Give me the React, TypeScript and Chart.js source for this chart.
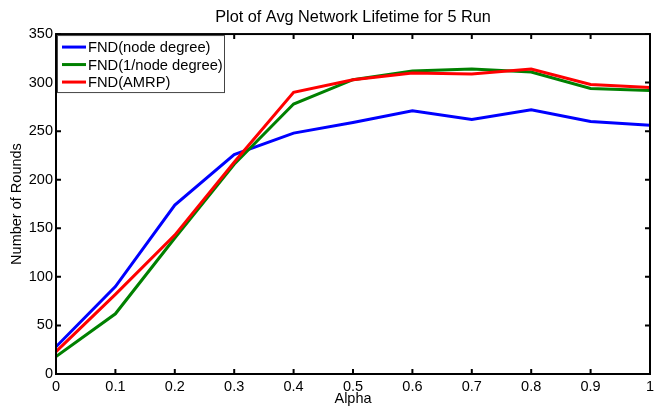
import React, { useEffect, useRef } from "react";
import { Chart, registerables } from "chart.js";

Chart.register(...registerables);

const alpha = [0, 0.1, 0.2, 0.3, 0.4, 0.5, 0.6, 0.7, 0.8, 0.9, 1];
const fndNodeDegree = [28, 90, 174, 226, 248, 259, 271, 262, 272, 260, 256];
const fndInvNodeDegree = [18, 62, 140, 216, 278, 303, 312, 314, 311, 294, 292];
const fndAmrp = [23, 82, 143, 218, 290, 303, 310, 309, 314, 298, 295];
const seriesLabels = ["FND(node degree)", "FND(1/node degree)", "FND(AMRP)"];
const seriesColors = ["#0000FF", "#008000", "#FF0000"];
const xTickLabels = ["0", "0.1", "0.2", "0.3", "0.4", "0.5", "0.6", "0.7", "0.8", "0.9", "1"];
const yTickValues = [0, 50, 100, 150, 200, 250, 300, 350];

const FONT = "'Liberation Sans', Arial, sans-serif";

const framePlugin = {
  id: "frame",
  afterDatasetsDraw(chart: any) {
    const { ctx, chartArea: a, scales } = chart;
    ctx.save();
    ctx.strokeStyle = "#000";
    ctx.lineWidth = 2;
    ctx.strokeRect(a.left, a.top, a.right - a.left, a.bottom - a.top);
    const L = 5;
    ctx.beginPath();
    alpha.forEach((v) => {
      const x = scales.x.getPixelForValue(v);
      ctx.moveTo(x, a.bottom);
      ctx.lineTo(x, a.bottom - L);
      ctx.moveTo(x, a.top);
      ctx.lineTo(x, a.top + L);
    });
    yTickValues.forEach((v) => {
      const y = scales.y.getPixelForValue(v);
      ctx.moveTo(a.left, y);
      ctx.lineTo(a.left + L, y);
      ctx.moveTo(a.right, y);
      ctx.lineTo(a.right - L, y);
    });
    ctx.stroke();

    // legend box
    const bx = a.left + 1;
    const by = a.top + 1;
    const bw = 168;
    const bh = 58;
    ctx.fillStyle = "#fff";
    ctx.fillRect(bx, by, bw, bh);
    ctx.lineWidth = 1;
    ctx.strokeStyle = "#444";
    ctx.strokeRect(bx + 0.5, by + 0.5, bw - 1, bh - 1);
    ctx.font = `14.7px ${FONT}`;
    ctx.textBaseline = "middle";
    ctx.textAlign = "left";
    chart.data.datasets.forEach((ds: any, i: number) => {
      const y = by + 12 + i * 17.5;
      ctx.strokeStyle = ds.borderColor;
      ctx.lineWidth = 3;
      ctx.beginPath();
      ctx.moveTo(bx + 5, y);
      ctx.lineTo(bx + 29, y);
      ctx.stroke();
      ctx.fillStyle = "#000";
      ctx.fillText(ds.label, bx + 31, y + 1);
    });
    ctx.restore();
  },
};

export default function App() {
  const ref = useRef<HTMLCanvasElement>(null);
  useEffect(() => {
    if (!ref.current) return;
    const seriesValues = [fndNodeDegree, fndInvNodeDegree, fndAmrp];
    const orders = [2, 1, 0];
    const chart = new Chart(ref.current, {
      type: "line",
      data: {
        datasets: seriesValues.map((vals, i) => ({
          label: seriesLabels[i],
          data: vals.map((y, j) => ({ x: alpha[j], y })),
          borderColor: seriesColors[i],
          backgroundColor: seriesColors[i],
          borderWidth: 3,
          pointRadius: 0,
          tension: 0,
          fill: false,
          order: orders[i],
        })),
      },
      options: {
        animation: false,
        responsive: true,
        maintainAspectRatio: false,
        layout: { padding: { left: 0, right: 9, top: 0, bottom: 0 } },
        plugins: {
          legend: { display: false },
          tooltip: { enabled: false },
          title: {
            display: true,
            text: "Plot of Avg Network Lifetime for 5 Run",
            color: "#000",
            font: { family: FONT, size: 16.3, weight: "normal" },
            padding: { top: 8, bottom: 6.5 },
            fullSize: false,
          },
        },
        scales: {
          x: {
            type: "linear",
            min: 0,
            max: 1,
            afterBuildTicks: (scale: any) => {
              scale.ticks = alpha.map((v) => ({ value: v }));
            },
            afterFit: (scale: any) => {
              scale.height = 34;
            },
            grid: { display: false, drawTicks: false },
            border: { display: false },
            ticks: {
              color: "#000",
              font: { family: FONT, size: 14.5 },
              padding: 4,
              maxRotation: 0,
              autoSkip: false,
              callback: (_v: any, i: number) => xTickLabels[i],
            },
            title: {
              display: true,
              text: "Alpha",
              color: "#000",
              font: { family: FONT, size: 14.5 },
              padding: { top: 0, bottom: 0 },
            },
          },
          y: {
            type: "linear",
            min: 0,
            max: 350,
            afterBuildTicks: (scale: any) => {
              scale.ticks = yTickValues.map((v) => ({ value: v }));
            },
            afterFit: (scale: any) => {
              scale.width = 56;
            },
            grid: { display: false, drawTicks: false },
            border: { display: false },
            ticks: {
              color: "#000",
              font: { family: FONT, size: 14.5 },
              padding: 3,
              autoSkip: false,
            },
            title: {
              display: true,
              text: "Number of Rounds",
              color: "#000",
              font: { family: FONT, size: 14.5 },
              padding: { top: 8.3, bottom: 0 },
            },
          },
        },
      },
      plugins: [framePlugin],
    });
    return () => chart.destroy();
  }, []);
  return (
    <div style={{ position: "fixed", left: 0, top: 0, width: 659, height: 408, background: "#fff" }}>
      <canvas ref={ref} />
    </div>
  );
}
